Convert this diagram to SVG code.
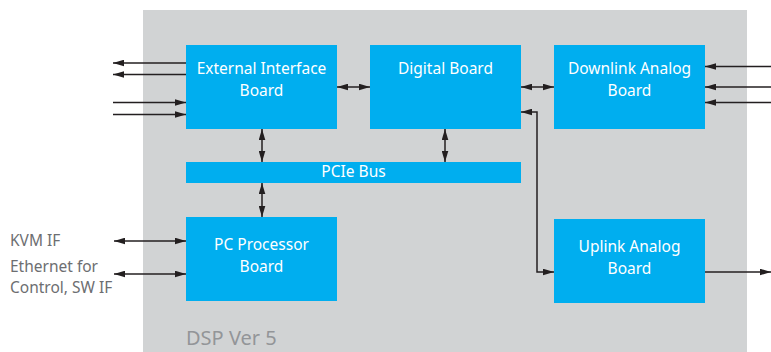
<svg xmlns="http://www.w3.org/2000/svg" width="771" height="352" viewBox="0 0 771 352">
<style>
.box{fill:#00aeef}
.lbl{fill:#ffffff;font-family:"Noto Sans","Open Sans",sans-serif;font-size:15.5px;text-anchor:middle}
.ext{fill:#6d6e71;font-family:"Noto Sans","Open Sans",sans-serif;font-size:15.5px}
.ln{stroke:#231f20;stroke-width:1.5;fill:none}
</style>
<defs>
<marker id="ah" viewBox="0 0 10 6" refX="10" refY="3" markerWidth="11" markerHeight="7" markerUnits="userSpaceOnUse" orient="auto-start-reverse">
<path d="M0,0 L10,3 L0,6 z" fill="#231f20"/>
</marker>
</defs>
<rect id="dsp" x="143" y="10" width="604" height="342" fill="#d1d3d4"/>
<text x="186" y="345" style="fill:#939598;font-family:'Noto Sans','Open Sans',sans-serif;font-size:20px">DSP Ver 5</text>
<g id="eib"><rect class="box" x="186" y="45" width="151" height="84"/><text class="lbl" x="261.5" y="74">External Interface</text><text class="lbl" x="261.5" y="96">Board</text></g>
<g id="digital"><rect class="box" x="370" y="45" width="151" height="84"/><text class="lbl" x="445.5" y="74">Digital Board</text></g>
<g id="downlink"><rect class="box" x="554" y="45" width="151" height="84"/><text class="lbl" x="629.5" y="74">Downlink Analog</text><text class="lbl" x="629.5" y="96">Board</text></g>
<g id="pcie"><rect class="box" x="186" y="162" width="335" height="21"/><text class="lbl" x="353.5" y="177">PCIe Bus</text></g>
<g id="pc"><rect class="box" x="186" y="217" width="151" height="84"/><text class="lbl" x="261.5" y="250">PC Processor</text><text class="lbl" x="261.5" y="272">Board</text></g>
<g id="uplink"><rect class="box" x="554" y="219" width="151" height="84"/><text class="lbl" x="629.5" y="252">Uplink Analog</text><text class="lbl" x="629.5" y="274">Board</text></g>
<g id="extlabels">
<text class="ext" x="10" y="246">KVM IF</text>
<text class="ext" x="10" y="272">Ethernet for</text>
<text class="ext" x="10" y="293">Control, SW IF</text>
</g>
<g id="connectors">
<line class="ln" x1="186" y1="63" x2="113" y2="63" marker-end="url(#ah)"/>
<line class="ln" x1="186" y1="74.5" x2="113" y2="74.5" marker-end="url(#ah)"/>
<line class="ln" x1="113" y1="102.5" x2="186" y2="102.5" marker-end="url(#ah)"/>
<line class="ln" x1="113" y1="114.5" x2="186" y2="114.5" marker-end="url(#ah)"/>
<line class="ln" x1="337" y1="87" x2="370" y2="87" marker-start="url(#ah)" marker-end="url(#ah)"/>
<line class="ln" x1="521" y1="87" x2="554" y2="87" marker-start="url(#ah)" marker-end="url(#ah)"/>
<line class="ln" x1="771" y1="66.5" x2="705" y2="66.5" marker-end="url(#ah)"/>
<line class="ln" x1="771" y1="87" x2="705" y2="87" marker-end="url(#ah)"/>
<line class="ln" x1="771" y1="102.5" x2="705" y2="102.5" marker-end="url(#ah)"/>
<polyline class="ln" points="521,112 537,112 537,272 554,272" marker-start="url(#ah)" marker-end="url(#ah)"/>
<line class="ln" x1="705" y1="272" x2="771" y2="272" marker-end="url(#ah)"/>
<line class="ln" x1="262" y1="129" x2="262" y2="162" marker-start="url(#ah)" marker-end="url(#ah)"/>
<line class="ln" x1="445" y1="129" x2="445" y2="162" marker-start="url(#ah)" marker-end="url(#ah)"/>
<line class="ln" x1="262" y1="183" x2="262" y2="217" marker-start="url(#ah)" marker-end="url(#ah)"/>
<line class="ln" x1="114" y1="241" x2="186" y2="241" marker-start="url(#ah)" marker-end="url(#ah)"/>
<line class="ln" x1="114" y1="274" x2="186" y2="274" marker-start="url(#ah)" marker-end="url(#ah)"/>
</g>
</svg>
